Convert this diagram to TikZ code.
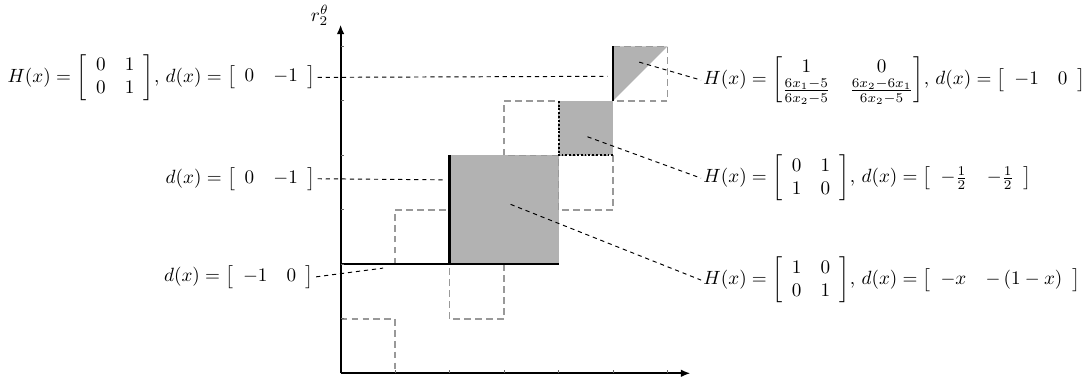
\documentclass[tikz,border=0pt]{standalone}
\usepackage{amsmath}
\usetikzlibrary{arrows.meta}
\begin{document}
\begin{tikzpicture}[x=1cm,y=1cm,
  region/.style={fill=black!30, draw=none},
  cellbox/.style={draw=black!40, line width=0.8pt, dash pattern=on 3.5pt off 2.2pt},
  stepline/.style={line width=1.2pt},
  leader/.style={line width=0.5pt, dash pattern=on 2.2pt off 2pt},
  lab/.style={inner sep=1pt},
  axisline/.style={line width=1pt, -{Latex[length=5pt,width=4pt]}},
  tickmark/.style={thin, black!60}]
\useasboundingbox (-6.25,-0.215) rectangle (13.77,6.85);
% shaded regions
\fill[region] (2,2) rectangle (4,4);
\fill[region] (4,4) rectangle (5,5);
\fill[region] (5,5) -- (5,6) -- (6,6) -- cycle;
% dashed cells
\draw[cellbox] (0,0) rectangle (1,1);
\draw[cellbox] (1,2) rectangle (2,3);
\draw[cellbox] (2,1) rectangle (3,2);
\draw[cellbox] (3,4) rectangle (4,5);
\draw[cellbox] (4,3) rectangle (5,4);
\draw[cellbox] (5,5) rectangle (6,6);
% solid and dotted boundaries
\draw[stepline] (0,2) -- (4,2);
\draw[stepline] (2,2) -- (2,4);
\draw[stepline] (5,5) -- (5,6);
\draw[densely dotted, line width=1pt] (4,5) -- (4,4) -- (5,4);
% axes
\draw[axisline] (0,0) -- (6.42,0);
\draw[axisline] (0,0) -- (0,6.4);
\foreach \i in {1,...,6} {
  \draw[tickmark] (\i,0) -- (\i,0.06);
  \draw[tickmark] (0,\i) -- (0.06,\i);
}
\node (ylab) at (-0.38,6.57) {$r_2^\theta$};
% leader end points
\coordinate (p1) at (4.9,5.45);
\coordinate (p2) at (1.88,3.55);
\coordinate (p3) at (0.78,1.93);
\coordinate (q1) at (5.48,5.71);
\coordinate (q2) at (4.53,4.34);
\coordinate (q3) at (3.12,3.1);
% labels
\node[lab, anchor=east] (L1) at (-0.42,5.43) {$H(x)=\left[\begin{array}{cc}0&1\\0&1\end{array}\right]$, $d(x)=\left[\begin{array}{cc}0&-1\end{array}\right]$};
\node[lab, anchor=east] (L2) at (-0.42,3.57) {$d(x)=\left[\begin{array}{cc}0&-1\end{array}\right]$};
\node[lab, anchor=east] (L3) at (-0.45,1.77) {$d(x)=\left[\begin{array}{cc}-1&0\end{array}\right]$};
\node[lab, anchor=west] (R1) at (6.615,5.38) {$H(x)=\begin{bmatrix}1&0\\ \frac{6x_1-5}{6x_2-5}&\frac{6x_2-6x_1}{6x_2-5}\end{bmatrix}$, $d(x)=\left[\begin{array}{cc}-1&0\end{array}\right]$};
\node[lab, anchor=west] (R2) at (6.615,3.58) {$H(x)=\left[\begin{array}{cc}0&1\\1&0\end{array}\right]$, $d(x)=\left[\begin{array}{cc}-\frac{1}{2}&-\frac{1}{2}\end{array}\right]$};
\node[lab, anchor=west] (R3) at (6.615,1.71) {$H(x)=\left[\begin{array}{cc}1&0\\0&1\end{array}\right]$, $d(x)=\left[\begin{array}{cc}-x&-\left(1-x\right)\end{array}\right]$};
% leaders
\draw[leader] (L1.east) -- (p1);
\draw[leader] (L2.east) -- (p2);
\draw[leader] (L3.east) -- (p3);
\draw[leader] (q1) -- (R1.west);
\draw[leader] (q2) -- (R2.west);
\draw[leader] (q3) -- (R3.west);
\end{tikzpicture}
\end{document}
